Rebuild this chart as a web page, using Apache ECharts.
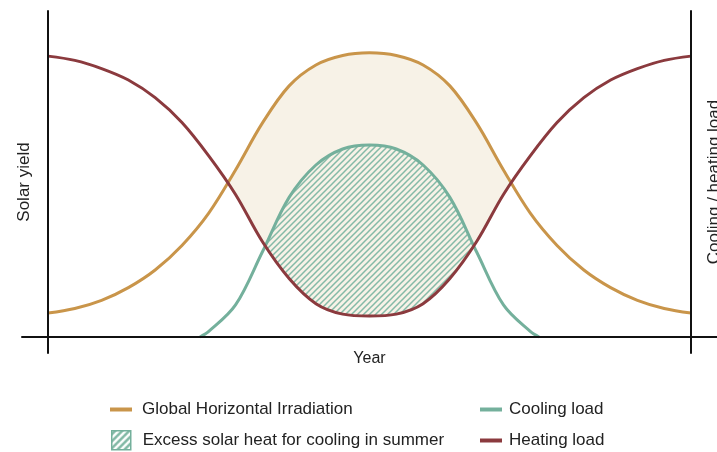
<!DOCTYPE html>
<html>
<head>
<meta charset="utf-8">
<style>
html,body{margin:0;padding:0;background:#fff;}
#chart{width:717px;height:452px;}
</style>
<script src="https://cdn.jsdelivr.net/npm/echarts@6/dist/echarts.min.js"></script>
</head>
<body>
<div id="chart"></div>
<script>
// x positions across the year (0 = left axis, 24 = right axis)
var xPos = [0,1,2,3,4,5,6,7,8,9,10,11,12,13,14,15,16,17,18,19,20,21,22,23,24];
var ghiData = [7.3,8.7,11.2,15.1,20.5,28.0,37.9,51.1,65.4,76.8,83.2,86.1,86.9,86.1,83.2,76.8,65.4,51.1,37.9,28.0,20.5,15.1,11.2,8.7,7.3];
var heatData = [85.9,84.6,82.1,78.6,73.2,65.6,55.4,43.6,29.2,17.9,10.2,7.0,6.4,7.0,10.2,17.9,29.2,43.6,55.4,65.6,73.2,78.6,82.1,84.6,85.9];
var coolX = [5.67,6,7,8,9,10,11,12,13,14,15,16,17,18,18.33];
var coolData = [0,1.7,9.8,26.0,42.7,52.6,57.5,58.7,57.5,52.6,42.7,26.0,9.8,1.7,0];

var names = ['Global Horizontal Irradiation','Excess solar heat for cooling in summer','Cooling load','Heating load'];
var axisNames = ['Year','Solar yield','Cooling / heating load'];

var chartObj = {
    myChart : echarts.init(document.getElementById('chart')),
    option : null,
    init : function(){
        var that = this;
        that.render();
    },
    pairs : function(xs, ys){
        return xs.map(function(x, i){ return [x, ys[i]]; });
    },
    // diagonal hatch tile: size, line colour, line width, background
    hatch : function(size, color, lw, bg){
        var c = document.createElement('canvas');
        c.width = size; c.height = size;
        var ctx = c.getContext('2d');
        if(bg){
            ctx.fillStyle = bg;
            ctx.fillRect(0, 0, size, size);
        }
        ctx.strokeStyle = color;
        ctx.lineWidth = lw;
        ctx.beginPath();
        ctx.moveTo(-1, size + 1); ctx.lineTo(size + 1, -1);
        ctx.moveTo(-2, 2); ctx.lineTo(2, -2);
        ctx.moveTo(size - 2, size + 2); ctx.lineTo(size + 2, size - 2);
        ctx.stroke();
        return c;
    },
    render : function(){
        var that = this;
        var pattern = {image: that.hatch(6, '#84baa7', 1.5), repeat: 'repeat'};
        var legendPattern = {image: that.hatch(7, '#ffffff', 2.5, '#7fb7a3'), repeat: 'repeat'};
        var txt = {color: '#222', fontSize: 17, fontFamily: 'Liberation Sans'};
        var smooth = 0.35;
        var legendBase = function(name, left, top, w, h, gap, extra){
            var item = {name: name, icon: 'rect'};
            if(extra){ item.itemStyle = extra; }
            return {
                data: [item], left: left, top: top, padding: 0,
                itemWidth: w, itemHeight: h, selectedMode: false,
                textStyle: {color: '#222', fontSize: 17, fontFamily: 'Liberation Sans', padding: [0,0,0,gap]}
            };
        };
        var noMarks = {axisTick: {show: false}, axisLabel: {show: false}, splitLine: {show: false}};
        that.option = {
            animation: false,
            grid: {left: 22, right: 0, top: 11, bottom: 99, containLabel: false, outerBoundsMode: 'none'},
            legend: [
                legendBase(names[0], 110, 401, 22, 4, 5),
                legendBase(names[1], 111, 430, 19, 19, 7, {color: legendPattern, borderColor: '#74b09c', borderWidth: 1.5}),
                legendBase(names[2], 480, 401, 22, 4, 2),
                legendBase(names[3], 480, 432, 22, 4, 2)
            ],
            xAxis: echarts.util.merge({
                type: 'value', min: -0.97, max: 24.97, z: 10, offset: -16,
                name: axisNames[0], nameLocation: 'middle', nameGap: 14,
                nameTextStyle: {color: '#222', fontSize: 16, fontFamily: 'Liberation Sans'},
                axisLine: {onZero: false, lineStyle: {color: '#111', width: 2}}
            }, noMarks),
            yAxis: [
                echarts.util.merge({
                    type: 'value', min: -4.9, max: 99.7, z: 10, position: 'left', offset: -26,
                    name: axisNames[1], nameLocation: 'middle', nameGap: 15,
                    nameTextStyle: txt,
                    axisLine: {show: true, onZero: false, lineStyle: {color: '#111', width: 2}}
                }, noMarks),
                echarts.util.merge({
                    type: 'value', min: -4.9, max: 99.7, z: 10, position: 'right', offset: -26,
                    name: axisNames[2], nameLocation: 'middle', nameGap: 15,
                    nameTextStyle: txt,
                    axisLine: {show: true, onZero: false, lineStyle: {color: '#111', width: 2}}
                }, noMarks)
            ],
            series: [
                {
                    name: 'ghiFill', type: 'line', smooth: smooth, symbol: 'none', silent: true, z: 1,
                    data: that.pairs(xPos, ghiData),
                    lineStyle: {opacity: 0},
                    areaStyle: {color: '#f7f2e7', opacity: 1}
                },
                {
                    name: names[1], type: 'line', smooth: smooth, symbol: 'none', silent: true, z: 2,
                    data: that.pairs(coolX, coolData),
                    itemStyle: {color: '#74b09c'},
                    lineStyle: {opacity: 0},
                    areaStyle: {color: pattern, opacity: 1}
                },
                {
                    name: 'heatMask', type: 'line', smooth: smooth, symbol: 'none', silent: true, z: 3,
                    data: that.pairs(xPos, heatData),
                    lineStyle: {opacity: 0},
                    areaStyle: {color: '#ffffff', opacity: 1}
                },
                {
                    name: names[0], type: 'line', smooth: smooth, symbol: 'none', z: 4,
                    data: that.pairs(xPos, ghiData),
                    itemStyle: {color: '#c9954a'},
                    lineStyle: {color: '#c9954a', width: 3}
                },
                {
                    name: names[2], type: 'line', smooth: smooth, symbol: 'none', z: 4,
                    data: that.pairs(coolX, coolData),
                    itemStyle: {color: '#74b09c'},
                    lineStyle: {color: '#74b09c', width: 3}
                },
                {
                    name: names[3], type: 'line', smooth: smooth, symbol: 'none', z: 4,
                    data: that.pairs(xPos, heatData),
                    itemStyle: {color: '#8b3a3e'},
                    lineStyle: {color: '#8b3a3e', width: 3}
                }
            ]
        };
        that.myChart.setOption(that.option);
    }
};
chartObj.init();
</script>
</body>
</html>
